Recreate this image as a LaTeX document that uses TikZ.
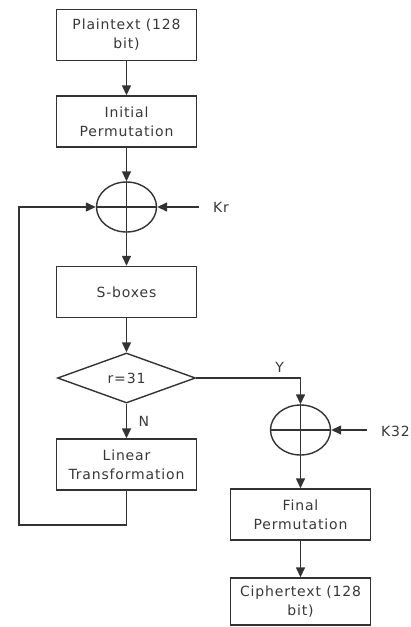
\documentclass[tikz,border=0pt]{standalone}
\usepackage{fontspec}
\setmainfont{DejaVu Sans}[LetterSpace=6]
\usetikzlibrary{arrows.meta,shapes.geometric}
\colorlet{figLine}{black!80}
\colorlet{figText}{black!78}

\begin{document}
\begin{tikzpicture}[x=1pt, y=-1pt, line width=1.4pt, draw=figLine,
    >={Triangle[length=10pt,width=9pt]},
    stepbox/.style={draw, minimum width=140pt, minimum height=51pt,
      align=center, text=figText, inner sep=2pt,
      font=\fontsize{14}{19}\selectfont},
    xorbox/.style={draw, ellipse, minimum width=60pt, minimum height=50pt,
      inner sep=0pt},
    testbox/.style={draw, diamond, aspect=2.7, minimum width=138pt,
      minimum height=50pt, inner sep=0pt, text=figText,
      font=\fontsize{14}{19}\selectfont},
    lbl/.style={text=figText, font=\fontsize{14}{19}\selectfont}]
        \useasboundingbox (0,0) rectangle (411,627);
        % left column
        \node[stepbox] (plain) at (126.5,35)    {Plaintext (128\\bit)};
        \node[stepbox] (init)  at (126.5,121.5) {Initial\\Permutation};
        \node[xorbox]  (xor1)  at (126.5,207)   {};
        \node[stepbox] (sbox)  at (126.5,292)   {S-boxes};
        \node[testbox] (test)  at (126.5,378)   {r=31};
        \node[stepbox] (lin)   at (126.5,464.5) {Linear\\Transformation};
        % right column
        \node[xorbox]  (xor2)  at (300.5,430)   {};
        \node[stepbox] (fperm) at (300.5,514.5) {Final\\Permutation};
        \node[stepbox, minimum height=47pt] (ciph) at (300.5,601.5)
              {Ciphertext (128\\bit)};
        % xor crosses
        \draw (xor1.north)--(xor1.south) (xor1.west)--(xor1.east);
        \draw (xor2.north)--(xor2.south) (xor2.west)--(xor2.east);
        % keys
        \coordinate (kr)  at (199,207);
        \coordinate (k32) at (367,430);
        \node[lbl, anchor=west] (krl)  at (209,207) {Kr};
        \node[lbl, anchor=west] (k32l) at (377,431) {K32};
        \draw[->] (kr)--(xor1.east);
        \draw[->] (k32)--(xor2.east);
        % main flow
        \draw[->] (plain)--(init);
        \draw[->] (init)--(xor1);
        \draw[->] (xor1)--(sbox);
        \draw[->] (sbox)--(test);
        \draw[->] (test)--(lin)
              node[lbl, midway, right=8pt]{N};
        \draw[->] (test.east)-|(xor2.north)
              node[lbl, pos=0.4, above=1pt]{Y};
        \draw[->] (xor2)--(fperm);
        \draw[->] (fperm)--(ciph);
        % round loop
        \coordinate (loop) at (19,525);
        \draw[->] (lin.south)|-(loop)|-(xor1.west);
      \end{tikzpicture}
\end{document}
